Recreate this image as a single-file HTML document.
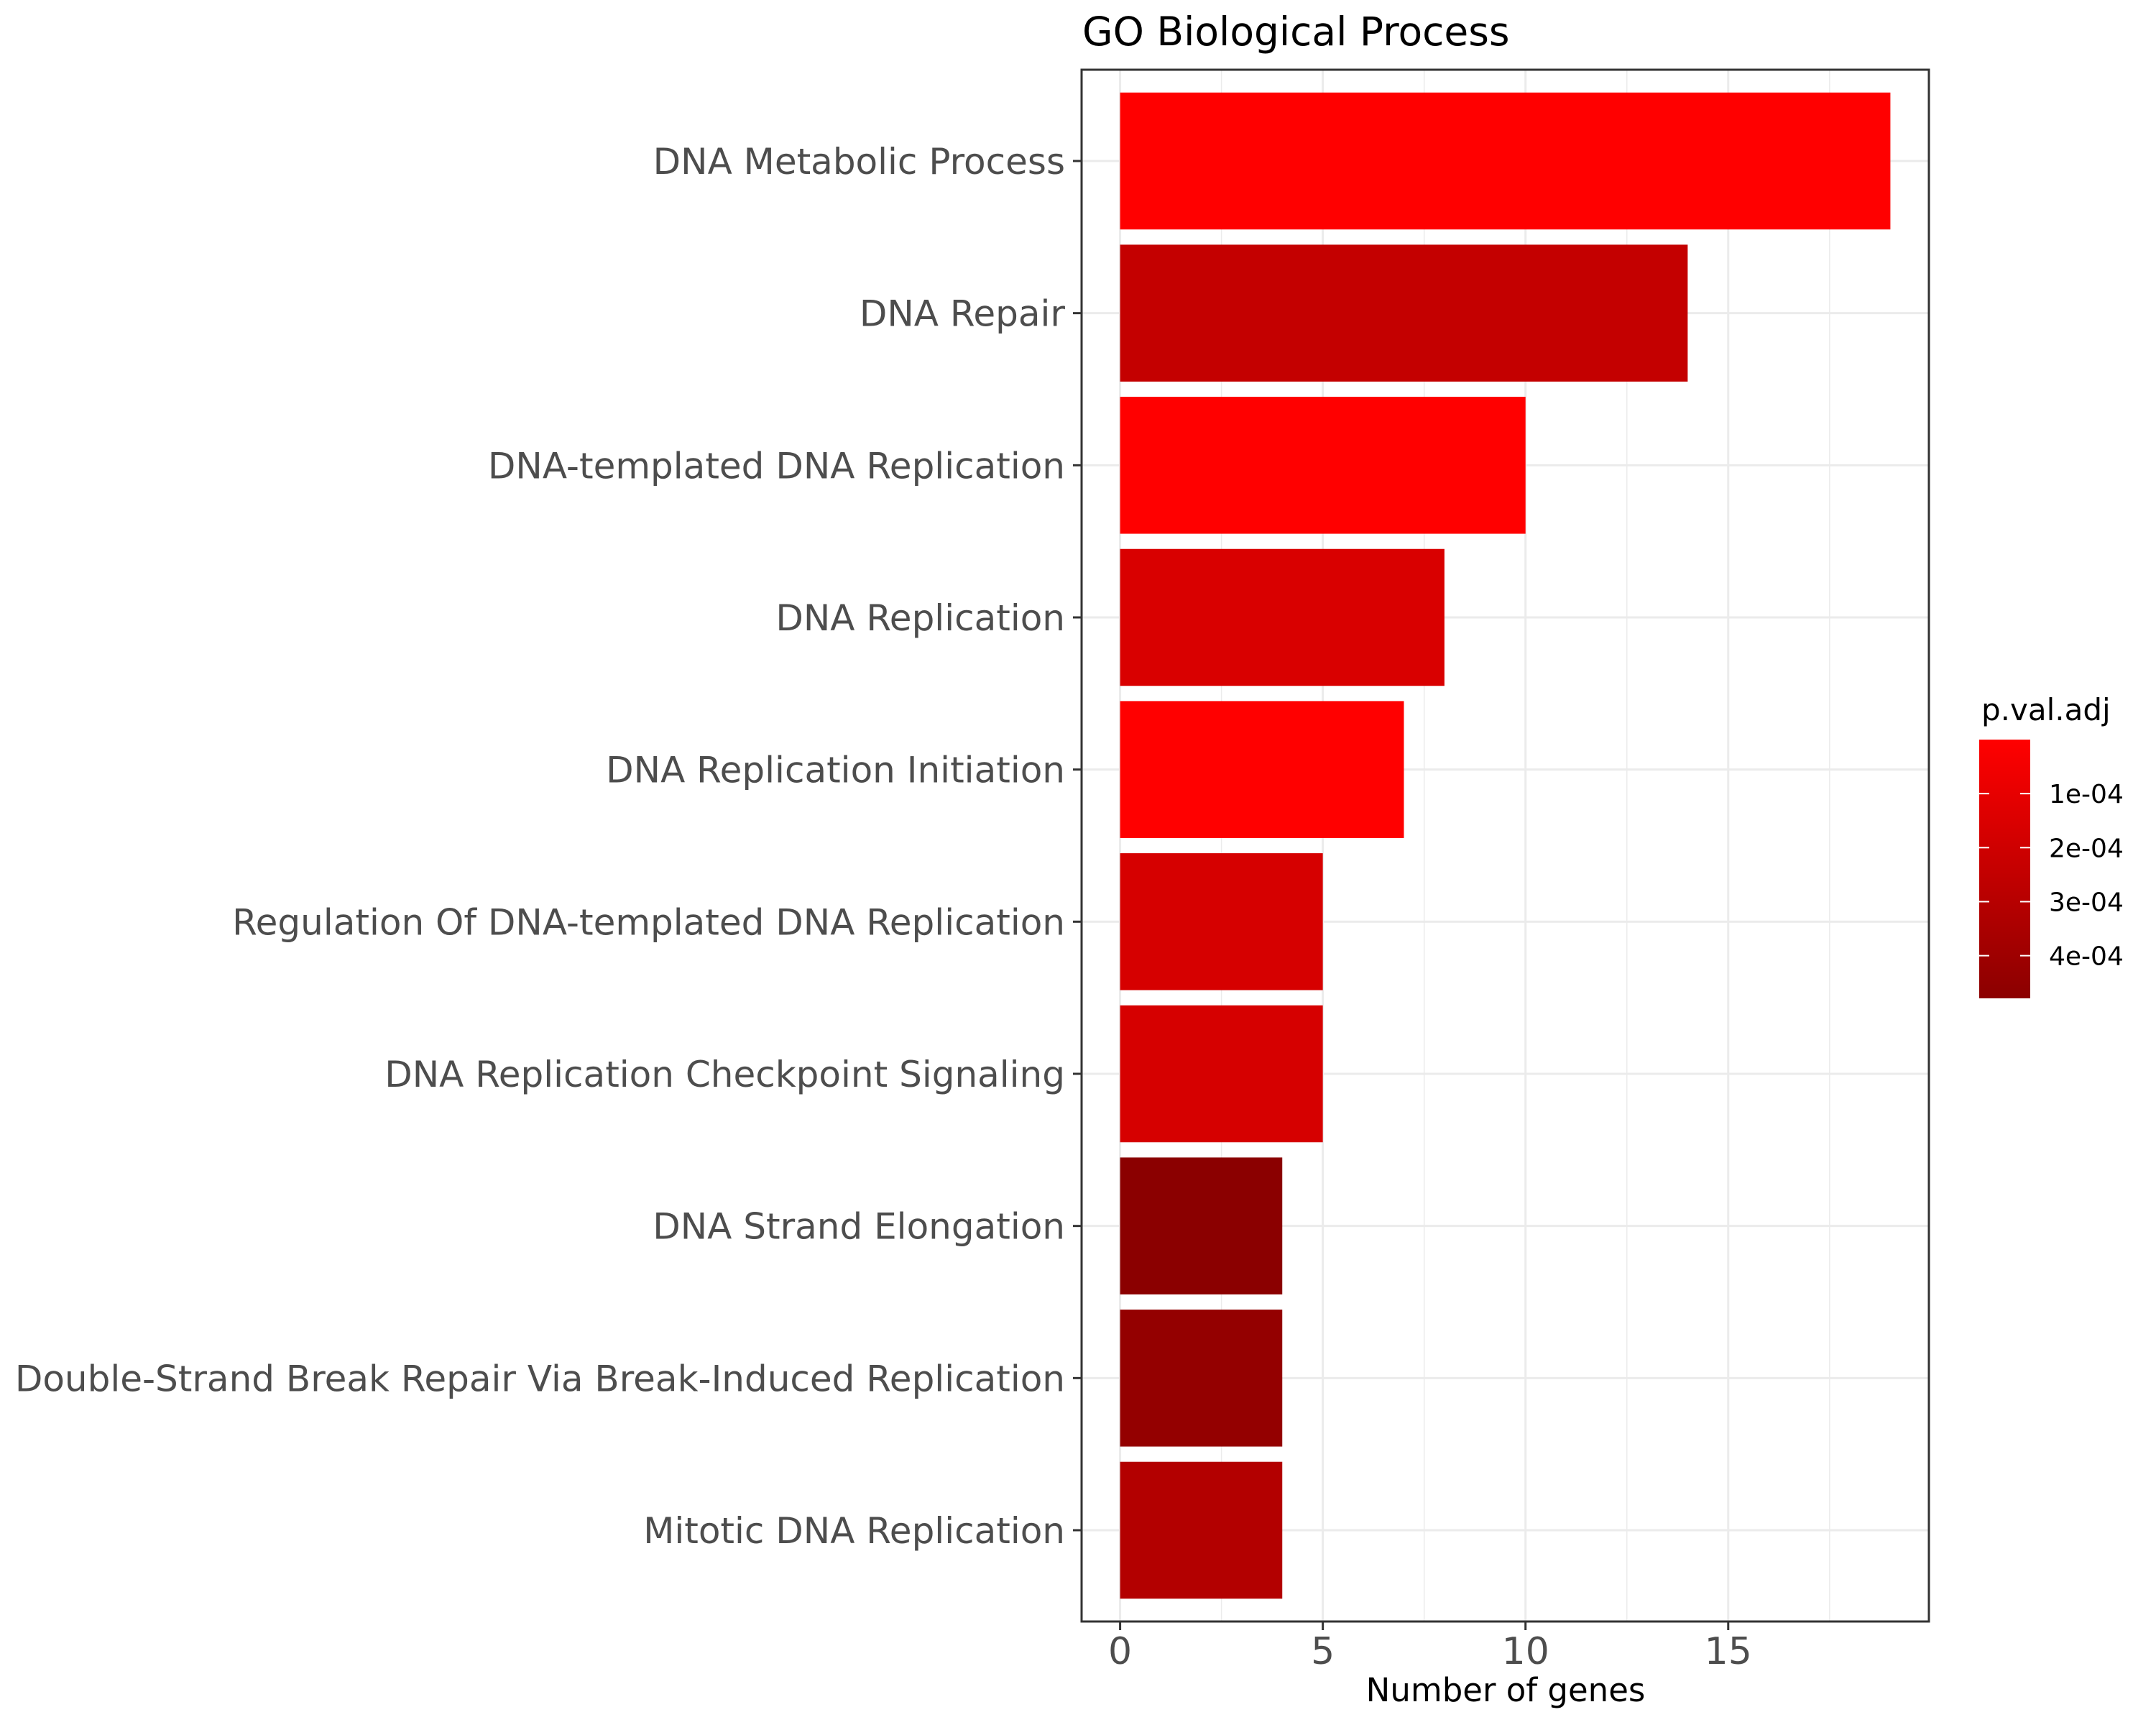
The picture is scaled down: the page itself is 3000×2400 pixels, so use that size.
<!DOCTYPE html>
<html><head><meta charset="utf-8"><style>
html,body{margin:0;padding:0;background:#fff}
svg{display:block;font-family:"DejaVu Sans","Liberation Sans",sans-serif}
</style></head><body>
<svg id="chart" width="3000" height="2400" viewBox="0 0 3000 2400" xmlns="http://www.w3.org/2000/svg">
<defs><linearGradient id="cb" x1="0" y1="0" x2="0" y2="1"><stop offset="0" stop-color="#FF0000"/><stop offset="1" stop-color="#8B0000"/></linearGradient></defs>
<text x="1506" y="63" font-size="55" fill="#000">GO Biological Process</text>
<g id="grid"></g><g id="bars"></g><g id="axes"></g>
<text x="2095" y="2367" font-size="45" text-anchor="middle" fill="#000">Number of genes</text>
<g>
<text x="2757" y="1002" font-size="42" fill="#000">p.val.adj</text>
<rect x="2754" y="1029" width="71" height="360" fill="url(#cb)"/>
<g id="legticks"></g>
</g>
</svg>
<script>
const categories=["DNA Metabolic Process","DNA Repair","DNA-templated DNA Replication","DNA Replication","DNA Replication Initiation","Regulation Of DNA-templated DNA Replication","DNA Replication Checkpoint Signaling","DNA Strand Elongation","Double-Strand Break Repair Via Break-Induced Replication","Mitotic DNA Replication"];
const geneCounts=[19,14,10,8,7,5,5,4,4,4];
const pvals=[0.0000005,0.000244,0.000001,0.000157,0.000001,0.000169,0.000169,0.000479,0.000442,0.000314];
const xTicks=[0,5,10,15];
const legendTicks=[0.0001,0.0002,0.0003,0.0004];
const legendLabels=["1e-04","2e-04","3e-04","4e-04"];

const NS="http://www.w3.org/2000/svg";
const PL=1505,PR=2684,PT=97,PB=2256;
const xmin=-0.95,xmax=19.95;
const X=v=>PL+(v-xmin)/(xmax-xmin)*(PR-PL);
const n=categories.length;
const Y=i=>PT+(0.6+i)/(n+0.2)*(PB-PT);
const band=(PB-PT)/(n+0.2);
const pmin=0,pmax=0.000479;
function col(p){const t=Math.max(0,Math.min(1,(p-pmin)/(pmax-pmin)));const r=Math.round(255+(139-255)*t);return "rgb("+r+",0,0)";}
function mk(tag,attrs,parent){const e=document.createElementNS(NS,tag);for(const k in attrs)e.setAttribute(k,attrs[k]);parent.appendChild(e);return e;}
const grid=document.getElementById('grid'),bars=document.getElementById('bars'),axes=document.getElementById('axes'),lt=document.getElementById('legticks');
for(let v=2.5;v<20;v+=5){const l=mk('line',{x1:X(v),x2:X(v),y1:PT,y2:PB,stroke:'#EBEBEB','stroke-width':1.5},grid);

}
xTicks.forEach(v=>{const l=mk('line',{x1:X(v),x2:X(v),y1:PT,y2:PB,stroke:'#EBEBEB','stroke-width':3},grid);

});
categories.forEach((c,i)=>{const l=mk('line',{x1:PL,x2:PR,y1:Y(i),y2:Y(i),stroke:'#EBEBEB','stroke-width':3},grid);

});
categories.forEach((c,i)=>{
const r=mk('rect',{x:X(0),y:Y(i)-band*0.45,width:X(geneCounts[i])-X(0),height:band*0.9,fill:col(pvals[i])},bars);


const t=mk('line',{x1:PL-12,x2:PL,y1:Y(i),y2:Y(i),stroke:'#333','stroke-width':3},axes);


const tx=mk('text',{x:1482,y:Y(i)+18,'font-size':50,'text-anchor':'end',fill:'#4D4D4D'},axes);
tx.textContent=c;


});
const border=mk('rect',{x:PL,y:PT,width:PR-PL,height:PB-PT,fill:'none',stroke:'#333','stroke-width':3},axes);


xTicks.forEach(v=>{
const t=mk('line',{x1:X(v),x2:X(v),y1:PB,y2:PB+12,stroke:'#333','stroke-width':3},axes);


const tx=mk('text',{x:X(v),y:2315,'font-size':52,'text-anchor':'middle',fill:'#4D4D4D'},axes);
tx.textContent=String(v);


});
const LY=p=>1029+(p-pmin)/(pmax-pmin)*360;
legendTicks.forEach((p,i)=>{
const y=LY(p);
const a=mk('line',{x1:2754,x2:2768,y1:y,y2:y,stroke:'#fff','stroke-width':2},lt);


const b=mk('line',{x1:2811,x2:2825,y1:y,y2:y,stroke:'#fff','stroke-width':2},lt);


const tx=mk('text',{x:2851,y:y+13,'font-size':36,fill:'#000'},lt);
tx.textContent=legendLabels[i];


});
</script>
</body></html>
